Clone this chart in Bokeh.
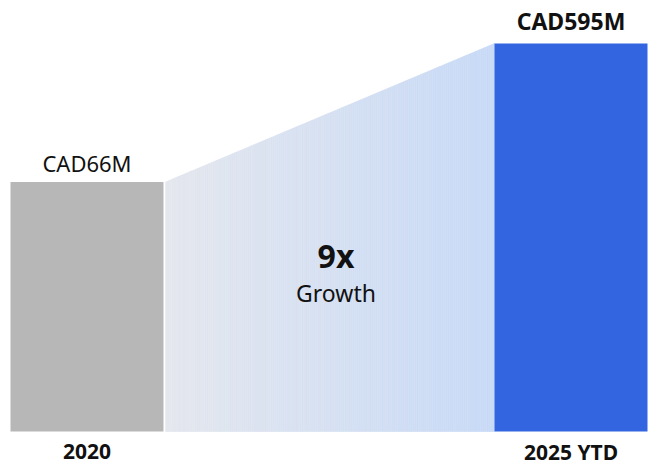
import math
from bokeh.plotting import figure
from bokeh.models import Range1d, Label, ColumnDataSource
from bokeh.core.properties import value
from bokeh.embed import file_html
from bokeh.resources import INLINE

# ---- data ----
categories = ["2020", "2025 YTD"]
values = [66, 595]            # CAD millions
value_labels = ["CAD66M", "CAD595M"]
growth_caption = "Growth"

# ---- style ----
FONT = "Noto Sans"
GRAY = "#b7b7b7"
BLUE = "#3365e0"
GRAD_LEFT = (228, 231, 238)
GRAD_RIGHT = (200, 218, 246)
BAR_W = 0.3161
BASE = 1.2570           # baseline of bars on the log scale
GAP = 0.0041

W, H = 648, 465
xs = [0, 1]

p = figure(width=W, height=H, output_backend="svg", toolbar_location=None,
           y_axis_type="log",
           x_range=Range1d(-0.17872, 1.16012),
           y_range=Range1d(10 ** -0.13502, 10 ** 3.07099))
p.min_border = 0
p.min_border_left = p.min_border_right = p.min_border_top = p.min_border_bottom = 0
p.axis.visible = False
p.grid.visible = False
p.outline_line_color = None
p.background_fill_color = "white"
p.border_fill_color = "white"

# gradient connector between the bars
x0 = xs[0] + BAR_W / 2 + GAP
x1 = xs[1] - BAR_W / 2
l0, l1 = math.log10(values[0]), math.log10(values[1])
N = 160
pxs, pys, cols = [], [], []
for i in range(N):
    ta, tb = i / N, (i + 1) / N
    xa = x0 + (x1 - x0) * ta
    xb = x0 + (x1 - x0) * tb
    ya = 10 ** (l0 + (l1 - l0) * ta)
    yb = 10 ** (l0 + (l1 - l0) * tb)
    tm = (ta + tb) / 2
    c = tuple(int(round(GRAD_LEFT[k] + (GRAD_RIGHT[k] - GRAD_LEFT[k]) * tm)) for k in range(3))
    pxs.append([xa, xb, xb, xa])
    pys.append([BASE, BASE, yb, ya])
    cols.append("#%02x%02x%02x" % c)
p.patches(pxs, pys, fill_color=cols, line_color=cols, line_width=0.6)

# bars
src = ColumnDataSource(dict(x=xs, top=values, cat=categories, lab=value_labels,
                            color=[GRAY, BLUE]))
p.vbar(x="x", width=BAR_W, bottom=BASE, top="top", fill_color="color",
       line_color=None, source=src)

# value labels
p.text(x=[xs[0]], y=[values[0]], text=[value_labels[0]], text_align="center",
       text_baseline="alphabetic", y_offset=-19, text_font=value(FONT),
       text_font_size="22px", text_color="#111111")
p.text(x=[xs[1]], y=[values[1]], text=[value_labels[1]], text_align="center",
       text_baseline="alphabetic", y_offset=-23, text_font=value(FONT),
       text_font_size="23px", text_font_style="bold", text_color="#111111")

# category labels
p.text(x=xs, y=[BASE, BASE], text=categories, text_align="center",
       text_baseline="alphabetic", y_offset=20, text_font=value(FONT),
       text_font_size="21px", text_font_style="bold", text_color="#111111")

# growth annotation
growth = round(values[1] / values[0])
mid = (x0 + x1) / 2
p.add_layout(Label(x=mid, y=210, x_units="data", y_units="screen", x_offset=6,
                   text=f"{growth}x", text_align="center", text_baseline="alphabetic",
                   text_font=FONT, text_font_size="32px", text_font_style="bold",
                   text_color="#111111"))
p.add_layout(Label(x=mid, y=173, x_units="data", y_units="screen", x_offset=6,
                   text=growth_caption, text_align="center", text_baseline="alphabetic",
                   text_font=FONT, text_font_size="23px", text_color="#111111"))

open("out.html", "w").write(file_html(p, INLINE))
